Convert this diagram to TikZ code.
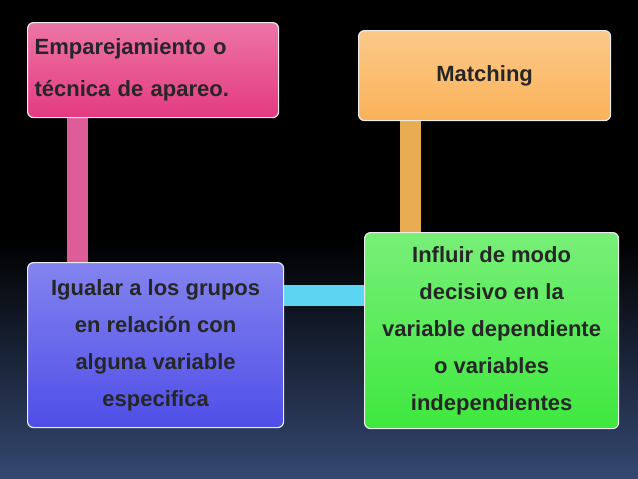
\documentclass[tikz,border=0pt]{standalone}
\usepackage{fontspec}
\setmainfont{Liberation Sans}
\usetikzlibrary{backgrounds}
\definecolor{pinkbox}{RGB}{228,58,128}
\definecolor{orangebox}{RGB}{250,178,88}
\definecolor{bluebox}{RGB}{78,78,232}
\definecolor{greenbox}{RGB}{62,232,62}
\definecolor{cyanbar}{RGB}{92,212,242}
\definecolor{pinkbar}{RGB}{222,92,152}
\definecolor{orangebar}{RGB}{232,172,82}
\definecolor{deepback}{RGB}{52,72,112}
\tikzset{
  box/.style={draw=white!85!gray, line width=1.2pt, rounded corners=6pt,
    inner sep=0pt, anchor=north west, align=center,
    font=\bfseries\fontsize{22}{37}\selectfont, text=black!85},
  bar/.style={line width=21pt},
}
\begin{document}
\begin{tikzpicture}[x=1pt,y=-1pt]
\useasboundingbox (0,0) rectangle (638,479);
\node[box, top color=pinkbox!70!white, bottom color=pinkbox, minimum width=251pt, minimum height=95pt,
  align=left, text width=237pt, inner xsep=7pt, font=\bfseries\fontsize{22}{42}\selectfont]
  (pareo) at (27,22) {Emparejamiento o\\técnica de apareo.};
\node[box, top color=orangebox!70!white, bottom color=orangebox, minimum width=252pt, minimum height=90pt]
  (matching) at (358,30) {Matching};
\node[box, top color=bluebox!70!white, bottom color=bluebox, minimum width=256pt, minimum height=165pt]
  (igualar) at (27,262) {Igualar a los grupos\\en relación con\\alguna variable\\especifica};
\node[box, top color=greenbox!70!white, bottom color=greenbox, minimum width=254pt, minimum height=196pt]
  (influir) at (364,232) {Influir de modo\\decisivo en la\\variable dependiente\\o variables\\independientes};
\begin{pgfonlayer}{background}
\shade[top color=black, bottom color=deepback, middle color=black] (0,0) rectangle (638,479);
\draw[bar, pinkbar] ([xshift=50pt]pareo.south west) -- ([xshift=50pt]igualar.north west);
\draw[bar, orangebar] ([xshift=52pt]matching.south west) -- ([xshift=46pt]influir.north west);
\draw[bar, cyanbar] ([yshift=50pt]igualar.east) -- ([yshift=50pt]igualar.east -| influir.west);
\end{pgfonlayer}
\end{tikzpicture}
\end{document}
